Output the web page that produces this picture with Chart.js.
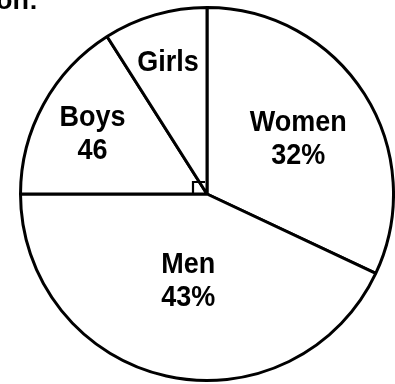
<!DOCTYPE html>
<html>
<head>
<meta charset="utf-8">
<script src="https://cdn.jsdelivr.net/npm/chart.js@4/dist/chart.umd.min.js"></script>
<style>
  html, body { margin: 0; padding: 0; background: #fff; overflow: hidden; }
  #wrap { position: relative; width: 395px; height: 384px; }
  #head { position: absolute; left: -4px; top: -15px; font: bold 27px "Liberation Sans", Arial, sans-serif; color: #000; }
</style>
</head>
<body>
<div id="wrap">
  <canvas id="chart" width="395" height="384"></canvas>
  <div id="head">on:</div>
</div>
<script>
// Các nhóm và phần trăm của từng nhóm
const groups = ['Women', 'Men', 'Boys', 'Girls'];
const shares = [32, 43, 16, 9];
// Dòng thứ hai của nhãn trong mỗi phần
const captions = ['32%', '43%', '46', ''];

// Vị trí nhãn theo tỉ lệ bán kính
const labelRadius = [0.58, 0.46, 0.7, 0.75];

// Vẽ nhãn chữ bên trong các phần của biểu đồ
const sliceLabels = {
    id: 'sliceLabels',
    afterDatasetsDraw(chart) {
        const ctx = chart.ctx;
        const arcs = chart.getDatasetMeta(0).data;
        ctx.save();
        ctx.fillStyle = '#000';
        ctx.font = 'bold 27px "Liberation Sans", Arial, sans-serif';
        ctx.textAlign = 'center';
        ctx.textBaseline = 'alphabetic';
        arcs.forEach((arc, i) => {
            const mid = (arc.startAngle + arc.endAngle) / 2;
            const r = arc.outerRadius * labelRadius[i];
            const x = arc.x + Math.cos(mid) * r;
            const y = arc.y + Math.sin(mid) * r;
            const lines = captions[i] ? [groups[i], captions[i]] : [groups[i]];
            const top = y - (lines.length - 1) * 16 + 11;
            lines.forEach((t, k) => {
                ctx.save();
                ctx.translate(x, top + k * 33);
                ctx.scale(1, 1.12);
                ctx.fillText(t, 0, 0);
                ctx.restore();
            });
        });

        // Ký hiệu góc vuông ở tâm
        const c = arcs[0];
        ctx.strokeStyle = '#000';
        ctx.lineWidth = 2.2;
        ctx.beginPath();
        ctx.moveTo(c.x - 14, c.y + 1);
        ctx.lineTo(c.x - 14, c.y - 12);
        ctx.lineTo(c.x - 2, c.y - 12);
        ctx.stroke();
        ctx.restore();
    }
};

const ctx = document.getElementById('chart').getContext('2d');
const chart = new Chart(ctx, {
    type: 'pie',
    data: {
        labels: groups,
        datasets: [{
            data: shares,
            backgroundColor: '#fff',
            borderColor: '#000',
            borderWidth: 3
        }]
    },
    options: {
        responsive: false,
        animation: false,
        layout: { padding: { top: 5, bottom: 1, left: 19, right: 0 } },
        plugins: {
            legend: { display: false },
            tooltip: { enabled: false }
        }
    },
    plugins: [sliceLabels]
});
</script>
</body>
</html>
